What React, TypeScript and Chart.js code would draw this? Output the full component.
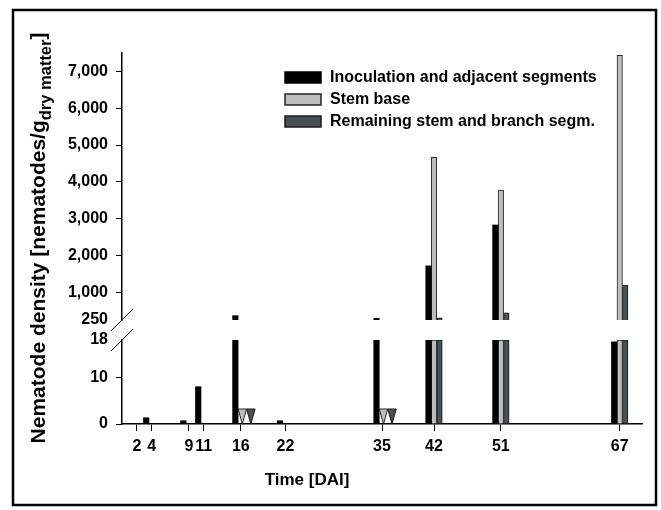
import { useEffect, useRef } from 'react';
import { Chart, registerables, type ChartConfiguration, type Plugin } from 'chart.js';

Chart.register(...registerables);

// sampling dates, days after inoculation
const days = [2, 4, 9, 11, 16, 22, 35, 42, 51, 67];
// nematodes / g dry matter; 0 = not detected (triangle), null = not sampled
const inoculation = [0, 1.35, 0.7, 8.0, 367, 0.7, 296, 1720, 2830, 17.6];
const stemBase = [null, null, null, null, 0, null, 0, 4670, 3780, 7440];
const remaining = [null, null, null, null, 0, null, 0, 312, 448, 1200];

const seriesLabels = ['Inoculation and adjacent segments', 'Stem base', 'Remaining stem and branch segm.'];
const lowTicks = [0, 10, 18];
const highTicks = [250, 1000, 2000, 3000, 4000, 5000, 6000, 7000];

const LOW_MAX = 18;
const HIGH_MIN = 250;
const HIGH_MAX = 7500;

const FONT = '"Liberation Sans", Arial, Helvetica, sans-serif';
const fills = ['#000000', '#bdbdbd', '#4a4f54'];
const edges = ['#000000', '#262626', '#1a1a1a'];
const TRI_W = 8.5;
const TRI_H = 15;

const series = [inoculation, stemBase, remaining];

const tickFont = { family: FONT, size: 16, weight: 'bold' as const };

const decorPlugin: Plugin<'bar'> = {
  id: 'decor',
  beforeDraw(chart) {
    const { ctx, width, height } = chart;
    ctx.save();
    ctx.fillStyle = '#fff';
    ctx.fillRect(0, 0, width, height);
    ctx.strokeStyle = '#000';
    ctx.lineWidth = 2.5;
    ctx.strokeRect(13, 10, 643, 495);
    ctx.restore();
  },
  afterDatasetsDraw(chart) {
    const { ctx } = chart;
    const y0 = chart.scales.yLow.getPixelForValue(0);
    ctx.save();
    ctx.lineWidth = 1;
    [1, 2].forEach((s) => {
      series[s].forEach((v, j) => {
        if (v !== 0) return;
        // triangles sit side by side, starting at the stem-base slot
        const ref = chart.getDatasetMeta(1).data[j] as any;
        const left = ref.x - ref.width / 2 + (s - 1) * TRI_W;
        ctx.beginPath();
        ctx.moveTo(left, y0 - TRI_H);
        ctx.lineTo(left + TRI_W, y0 - TRI_H);
        ctx.lineTo(left + TRI_W / 2, y0);
        ctx.closePath();
        ctx.fillStyle = fills[s];
        ctx.strokeStyle = edges[s];
        ctx.fill();
        ctx.stroke();
      });
    });
    ctx.restore();
  },
  afterDraw(chart) {
    const { ctx } = chart;
    const yHigh = chart.scales.yHigh;
    const yLow = chart.scales.yLow;
    const ax = yLow.right;

    ctx.save();
    // axis break marks
    ctx.strokeStyle = '#000';
    ctx.lineWidth = 1;
    [yHigh.bottom, yLow.top].forEach((yb) => {
      ctx.beginPath();
      ctx.moveTo(ax - 11, yb + 11);
      ctx.lineTo(ax + 11, yb - 11);
      ctx.stroke();
    });

    // legend
    chart.data.datasets.slice(0, 3).forEach((ds: any, i) => {
      const cy = 77.5 + i * 22;
      ctx.fillStyle = ds.backgroundColor;
      ctx.fillRect(285, cy - 5.5, 36, 11);
      ctx.strokeStyle = ds.borderColor;
      ctx.lineWidth = 1.5;
      ctx.strokeRect(285, cy - 5.5, 36, 11);
      ctx.fillStyle = '#000';
      ctx.font = `bold 16px ${FONT}`;
      ctx.textAlign = 'left';
      ctx.textBaseline = 'middle';
      ctx.fillText(ds.label, 330, cy);
    });

    // x title
    ctx.font = `bold 17px ${FONT}`;
    ctx.textAlign = 'center';
    ctx.textBaseline = 'middle';
    ctx.fillText('Time [DAI]', 307, 480);

    // y title with subscript
    const main = 'Nematode density [nematodes/g';
    const sub = 'dry matter';
    const mainFont = `bold 21px ${FONT}`;
    const subFont = `bold 16.5px ${FONT}`;
    ctx.translate(45, 238);
    ctx.rotate(-Math.PI / 2);
    ctx.textAlign = 'left';
    ctx.textBaseline = 'alphabetic';
    ctx.font = mainFont;
    const w1 = ctx.measureText(main).width;
    const w3 = ctx.measureText(']').width;
    ctx.font = subFont;
    const w2 = ctx.measureText(sub).width;
    let x = -(w1 + w2 + w3) / 2;
    ctx.font = mainFont;
    ctx.fillText(main, x, 0);
    x += w1;
    ctx.font = subFont;
    ctx.fillText(sub, x, 6);
    x += w2;
    ctx.font = mainFont;
    ctx.fillText(']', x, 0);
    ctx.restore();
  },
};

export default function App() {
  const canvasRef = useRef<HTMLCanvasElement>(null);

  useEffect(() => {
    const canvas = canvasRef.current;
    if (!canvas) return;

    const lowSets = series.map((vals, i) => ({
      label: seriesLabels[i],
      yAxisID: 'yLow',
      stack: 'g' + i,
      data: days.map((d, j) => ({ x: d, y: vals[j] == null ? null : Math.min(vals[j] as number, LOW_MAX) })),
      backgroundColor: fills[i],
      borderColor: edges[i],
      borderWidth: i === 0 ? 0 : 1,
      barThickness: 5.5,
    }));
    const highSets = series.map((vals, i) => ({
      label: seriesLabels[i] + ' (upper)',
      yAxisID: 'yHigh',
      stack: 'g' + i,
      data: days.map((d, j) => ({
        x: d,
        y: vals[j] != null && (vals[j] as number) > HIGH_MIN ? [HIGH_MIN, vals[j] as number] : null,
      })),
      backgroundColor: fills[i],
      borderColor: edges[i],
      borderWidth: i === 0 ? 0 : 1,
      barThickness: 5.5,
    }));

    const yCommon = {
      type: 'linear' as const,
      position: 'left' as const,
      stack: 'y',
      stacked: false,
      afterFit: (s: any) => {
        s.width = 60;
      },
      border: { color: '#000', width: 1.5 },
      ticks: {
        autoSkip: false,
        font: tickFont,
        color: '#000',
        padding: 8,
        callback: (v: any) => Number(v).toLocaleString('en-US'),
      },
    };

    const config: ChartConfiguration<'bar'> = {
      type: 'bar',
      data: { datasets: [...lowSets, ...highSets] as any },
      options: {
        responsive: true,
        maintainAspectRatio: false,
        animation: false,
        events: [],
        layout: { padding: { left: 62, top: 53, right: 19, bottom: 46 } },
        plugins: { legend: { display: false }, tooltip: { enabled: false } },
        scales: {
          x: {
            type: 'linear',
            min: 0,
            max: 70,
            offset: false,
            afterBuildTicks: (s: any) => {
              s.ticks = days.map((v) => ({ value: v }));
            },
            afterFit: (s: any) => {
              s.height = 40;
            },
            border: { color: '#000', width: 1.5 },
            grid: { drawOnChartArea: false, offset: false, tickLength: 7, color: '#000' },
            ticks: { autoSkip: false, maxRotation: 0, font: tickFont, color: '#000', padding: 6 },
          },
          yHigh: {
            ...yCommon,
            weight: 3,
            stackWeight: 267,
            min: HIGH_MIN,
            max: HIGH_MAX,
            afterBuildTicks: (s: any) => {
              s.ticks = highTicks.map((v) => ({ value: v }));
            },
            grid: {
              drawOnChartArea: false,
              tickLength: 6,
              color: '#000',
              tickColor: (c: any) => (c.tick && c.tick.value === HIGH_MIN ? 'rgba(0,0,0,0)' : '#000'),
            },
          },
          ySpace: {
            type: 'linear',
            position: 'left',
            stack: 'y',
            weight: 2,
            stackWeight: 20,
            display: false,
            min: 0,
            max: 1,
          },
          yLow: {
            ...yCommon,
            weight: 1,
            stackWeight: 84,
            min: 0,
            max: LOW_MAX,
            afterBuildTicks: (s: any) => {
              s.ticks = lowTicks.map((v) => ({ value: v }));
            },
            grid: {
              drawOnChartArea: false,
              tickLength: 6,
              color: '#000',
              tickColor: (c: any) => (c.tick && c.tick.value === LOW_MAX ? 'rgba(0,0,0,0)' : '#000'),
            },
          },
        } as any,
      },
      plugins: [decorPlugin],
    };

    const chart = new Chart(canvas, config);
    return () => {
      chart.destroy();
    };
  }, []);

  return (
    <div style={{ position: 'fixed', left: 0, top: 0, width: 661, height: 510, background: '#fff' }}>
      <canvas ref={canvasRef} />
    </div>
  );
}
